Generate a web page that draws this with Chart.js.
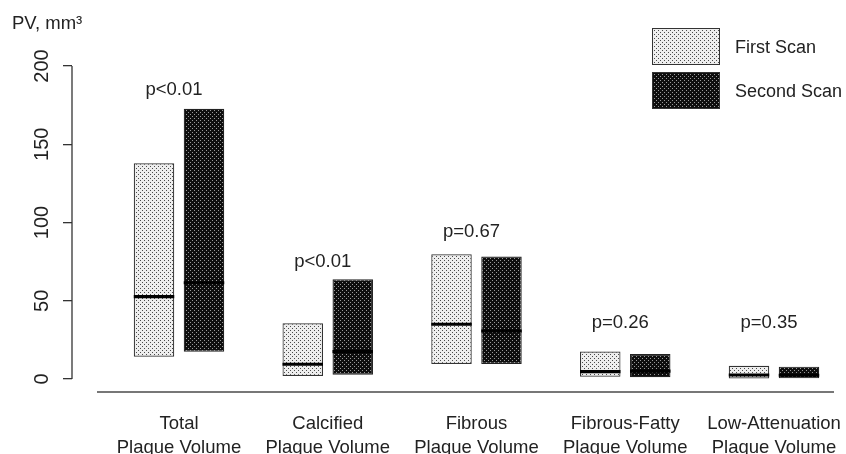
<!DOCTYPE html>
<html>
<head>
<meta charset="utf-8">
<script src="https://cdn.jsdelivr.net/npm/chart.js@4.4.1/dist/chart.umd.min.js"></script>
<style>
  html, body { margin: 0; padding: 0; background: #fff; }
</style>
</head>
<body>
<canvas id="pvChart" width="846" height="454"></canvas>
<script>
const categories = [
    ["Total", "Plaque Volume"], ["Calcified", "Plaque Volume"], ["Fibrous", "Plaque Volume"],
    ["Fibrous-Fatty", "Plaque Volume"], ["Low-Attenuation", "Plaque Volume"]
];
const firstLow = [14.3, 1.9, 9.6, 1.5, 0.4];
const firstHigh = [137.8, 35.6, 79.7, 17.5, 8.5];
const firstMedian = [52.6, 9.4, 35.0, 4.7, 2.6];
const secondLow = [17.4, 2.8, 9.6, 1.1, 0.0];
const secondHigh = [172.7, 63.7, 78.2, 16.0, 7.9];
const secondMedian = [61.5, 17.5, 30.7, 5.0, 2.4];
const pLabels = ["p<0.01", "p<0.01", "p=0.67", "p=0.26", "p=0.35"];
const pLabelY = [185, 75, 94, 36, 36];
const yTicks = [0, 50, 100, 150, 200];

const FONT = '"Liberation Sans", Arial, sans-serif';

window.onload = function() {
    Chart.defaults.font.family = FONT;
    drawChart();
}

// stippled fills like the printed figure
function stipple(bg, dot)
{
    const c = document.createElement('canvas');
    c.width = 4; c.height = 4;
    const g = c.getContext('2d');
    g.fillStyle = bg;
    g.fillRect(0, 0, 4, 4);
    g.fillStyle = dot;
    g.fillRect(0, 0, 1, 1);
    g.fillRect(2, 2, 1, 1);
    return g.createPattern(c, 'repeat');
}

function boxes(low, high)
{
    return low.map((lo, i) => ({ x: i, y: [lo, high[i]] }));
}

function medians(med)
{
    return med.map((m, i) => ({ x: i, y: [m - 1, m + 1] }));
}

const decorations = {
    id: 'decorations',
    afterDraw(chart) {
        const { ctx, chartArea, scales: { x, y } } = chart;
        ctx.save();

        // y axis line, only over the tick range
        ctx.strokeStyle = '#333';
        ctx.lineWidth = 1.3;
        ctx.beginPath();
        ctx.moveTo(chartArea.left, y.getPixelForValue(yTicks[0]));
        ctx.lineTo(chartArea.left, y.getPixelForValue(yTicks[yTicks.length - 1]));
        ctx.stroke();

        // baseline under the groups
        ctx.strokeStyle = '#777';
        ctx.lineWidth = 2;
        ctx.beginPath();
        ctx.moveTo(chartArea.left + 25, chartArea.bottom);
        ctx.lineTo(chartArea.right, chartArea.bottom);
        ctx.stroke();

        // rotated y tick labels
        ctx.fillStyle = '#222';
        ctx.font = '20px ' + FONT;
        ctx.textAlign = 'center';
        ctx.textBaseline = 'middle';
        yTicks.forEach(v => {
            ctx.save();
            ctx.translate(42, y.getPixelForValue(v));
            ctx.rotate(-Math.PI / 2);
            ctx.fillText(String(v), 0, 0);
            ctx.restore();
        });

        // axis title
        ctx.font = '18.5px ' + FONT;
        ctx.textAlign = 'left';
        ctx.fillText('PV, mm³', 12, 24);

        // p values over each group
        ctx.textAlign = 'center';
        pLabels.forEach((t, i) => {
            ctx.fillText(t, x.getPixelForValue(i) - 5, y.getPixelForValue(pLabelY[i]));
        });

        // legend, top right
        ctx.font = '18px ' + FONT;
        const items = chart.data.datasets.filter(d => d.inLegend);
        items.forEach((d, i) => {
            const top = 28 + i * 44;
            ctx.fillStyle = d.backgroundColor;
            ctx.fillRect(652, top, 68, 37);
            ctx.strokeStyle = '#333';
            ctx.lineWidth = 1;
            ctx.strokeRect(652.5, top + 0.5, 67, 36);
            ctx.fillStyle = '#222';
            ctx.textAlign = 'left';
            ctx.fillText(d.label, 735, top + 20);
        });

        ctx.restore();
    }
};

function drawChart()
{
    const firstFill = stipple('#eeeeee', '#4a4a4a');
    const secondFill = stipple('#0e0e0e', '#9a9a9a');

    const common = {
        categoryPercentage: 0.672,
        barPercentage: 0.81,
        borderSkipped: false
    };

    const ctx = document.getElementById('pvChart').getContext('2d');
    new Chart(ctx, {
        type: 'bar',
        data: {
            datasets: [
                Object.assign({ label: 'First Scan median', data: medians(firstMedian), stack: 'a', order: 0,
                    backgroundColor: '#000', borderWidth: 0 }, common),
                Object.assign({ label: 'Second Scan median', data: medians(secondMedian), stack: 'b', order: 0,
                    backgroundColor: '#000', borderWidth: 0 }, common),
                Object.assign({ label: 'First Scan', data: boxes(firstLow, firstHigh), stack: 'a', order: 1,
                    inLegend: true, backgroundColor: firstFill, borderColor: '#333', borderWidth: 1.2 }, common),
                Object.assign({ label: 'Second Scan', data: boxes(secondLow, secondHigh), stack: 'b', order: 1,
                    inLegend: true, backgroundColor: secondFill, borderColor: '#222', borderWidth: 1.2 }, common)
            ]
        },
        options: {
            responsive: false,
            animation: false,
            layout: { padding: { top: 66, right: 12, left: 0, bottom: 0 } },
            plugins: {
                legend: { display: false },
                tooltip: { enabled: false }
            },
            scales: {
                x: {
                    type: 'linear',
                    offset: false,
                    min: -0.7193,
                    max: 4.4034,
                    stacked: true,
                    grid: { display: false, offset: false },
                    border: { display: false },
                    afterBuildTicks: axis => { axis.ticks = categories.map((c, i) => ({ value: i })); },
                    afterFit: axis => { axis.height = 62; axis.paddingLeft = 0; axis.paddingRight = 0; },
                    ticks: {
                        padding: 12,
                        autoSkip: false,
                        maxRotation: 0,
                        color: '#222',
                        font: { size: 18.5, lineHeight: 1.29 },
                        callback: v => categories[v]
                    }
                },
                y: {
                    min: -8.3,
                    max: 200,
                    stacked: false,
                    afterBuildTicks: axis => { axis.ticks = yTicks.map(v => ({ value: v })); },
                    afterFit: axis => { axis.width = 72; },
                    ticks: { display: false },
                    border: { display: false },
                    grid: {
                        drawOnChartArea: false,
                        drawTicks: true,
                        tickLength: 9,
                        color: '#333',
                        lineWidth: 1.3
                    }
                }
            }
        },
        plugins: [decorations]
    });
}
</script>
</body>
</html>
